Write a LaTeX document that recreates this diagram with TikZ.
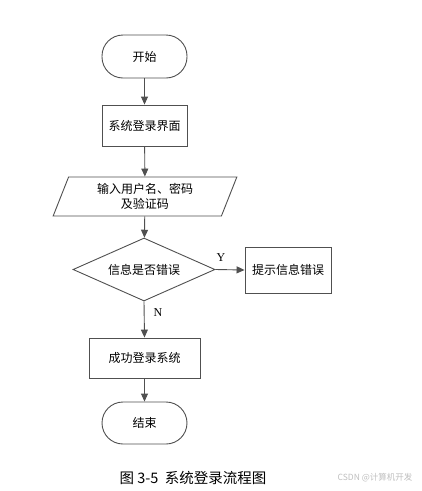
\documentclass[tikz,border=0pt]{standalone}
\usepackage{fontspec}
\setmainfont{Liberation Serif}
\newfontfamily\cjk{Noto Sans CJK SC}
\usetikzlibrary{shapes.geometric,arrows.meta}
\definecolor{linegray}{HTML}{505050}
\tikzset{
  base/.style={draw=linegray, line width=0.9pt, font=\cjk\fontsize{12}{15.5}\selectfont, text=black, inner sep=0pt},
  term/.style={base, rectangle, rounded corners=21pt, minimum width=85pt, minimum height=43pt},
  proc/.style={base, rectangle, minimum height=41pt},
  io/.style={base, trapezium, trapezium left angle=70, trapezium right angle=110, trapezium stretches=true, minimum width=184pt, minimum height=39pt, align=center},
  decision/.style={base, diamond, aspect=2.25, minimum width=142pt, minimum height=63pt},
  conn/.style={draw=linegray, line width=0.9pt, -{Triangle[length=8pt,width=7pt]}},
  lab/.style={font=\fontsize{12}{14}\selectfont, text=black}
}
\begin{document}
\begin{tikzpicture}[x=1pt,y=-1pt]
\useasboundingbox[fill=white] (0,0) rectangle (422,491);
\node[term] (start) at (144.5,56.5) {开始};
\node[proc, minimum width=85pt] (ui) at (144.5,125.5) {系统登录界面};
\node[io] (input) at (145,196.5) {输入用户名、密码\\及验证码};
\node[decision] (check) at (144,269.5) {信息是否错误};
\node[proc, minimum width=86pt, minimum height=46pt] (err) at (288,270) {提示信息错误};
\node[proc, minimum width=111pt, minimum height=40pt] (ok) at (144.5,358) {成功登录系统};
\node[term, minimum height=42pt] (stop) at (144.5,423) {结束};
\draw[conn] (start) -- (ui);
\draw[conn] (ui) -- (input);
\draw[conn] (input) -- (check);
\draw[conn] (check.east) -- (err.west);
\draw[conn] (check.south) -- (ok.north);
\draw[conn] (ok) -- (stop);
\node[lab] (ylab) at (221,258) {Y};
\node[lab] (nlab) at (158,313) {N};
\node[font=\cjk\fontsize{14.5}{16}\selectfont] (cap) at (193,478) {图 3-5\ \ 系统登录流程图};
\node[font=\cjk\fontsize{8.5}{10}\selectfont, text=black!25] (wm) at (375,478) {CSDN @计算机开发};
\end{tikzpicture}
\end{document}
